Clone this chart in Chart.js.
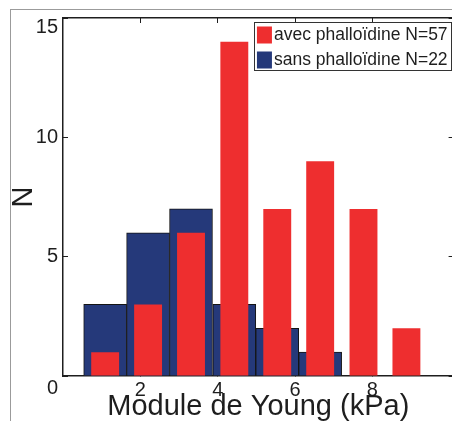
<!DOCTYPE html>
<html><head><meta charset="utf-8">
<script src="https://cdn.jsdelivr.net/npm/chart.js@4.4.1/dist/chart.umd.min.js"></script>
<style>
html,body{margin:0;padding:0;background:#fff;overflow:hidden;width:452px;height:421px;}
#wrap{position:relative;width:456px;height:421px;}
#frame{position:absolute;left:10px;top:9px;width:460px;height:420px;border-left:1.5px solid #9b9b9b;border-top:1.5px solid #9b9b9b;}
canvas{position:absolute;left:0;top:0;}
</style></head><body>
<div id="wrap"><div id="frame"></div><canvas id="c" width="456" height="421"></canvas></div>
<script>
// ---- data ----
const binCenters = [1.09, 2.20, 3.31, 4.43, 5.54, 6.65, 7.77, 8.88];
const avecCounts = [1, 3, 6, 14, 7, 9, 7, 2];
const sansCounts = [3, 6, 7, 3, 2, 1];
const avecLabel = 'avec phalloïdine N=57';
const sansLabel = 'sans phalloïdine N=22';
const xTickValues = [2, 4, 6, 8];
const yTickValues = [0, 5, 10, 15];
const xTitle = 'Module de Young (kPa)';
const yTitle = 'N';

// ---- style ----
const FONT = "'Liberation Sans', Arial, Helvetica, sans-serif";
Chart.defaults.font.family = FONT;
const ink = '#1e1e1e';
const red = '#ee2e2f';
const blue = '#25397a';

const tickGrid = {drawOnChartArea:false, drawTicks:true, tickLength:-5, color:ink, lineWidth:1, offset:false};
const border = {display:true, color:ink, width:1.5};
const fixX = h => s => { s.height = h; s.paddingLeft = 0; s.paddingRight = 0; };
const fixY = w => s => { s.width = w; s.paddingTop = 0; s.paddingBottom = 0; };
const setXTicks = s => { s.ticks = xTickValues.map(v => ({value:v})); };
const setYTicks = s => { s.ticks = yTickValues.map(v => ({value:v})); };

const boxLegend = {
  id:'boxLegend',
  afterDraw(chart){
    const {ctx, chartArea:a} = chart;
    ctx.save();
    ctx.font = '17.5px ' + FONT;
    const items = chart.data.datasets.map(d => ({text:d.label, color:d.backgroundColor}));
    const textW = Math.max(...items.map(it => ctx.measureText(it.text).width));
    const sqW = 15, sqH = 17, padL = 3, gap = 2, padR = 3, rowH = 25, firstRow = 13;
    const w = padL + sqW + gap + textW + padR;
    const h = 48;
    const right = a.right - 3;
    const left = right - w;
    const top = a.top + 4;
    ctx.fillStyle = '#fff';
    ctx.fillRect(left, top, w, h);
    ctx.strokeStyle = '#333';
    ctx.lineWidth = 1;
    ctx.strokeRect(Math.round(left)+0.5, Math.round(top)+0.5, Math.round(w), h);
    items.forEach((it, i) => {
      const cy = top + firstRow + i*rowH;
      ctx.fillStyle = it.color;
      ctx.fillRect(left + padL, cy - sqH/2, sqW, sqH);
      ctx.fillStyle = ink;
      ctx.textBaseline = 'middle';
      ctx.textAlign = 'left';
      ctx.fillText(it.text, left + padL + sqW + gap, cy + 0.5);
    });
    ctx.restore();
  }
};

new Chart(document.getElementById('c'), {
  type:'bar',
  data:{
    datasets:[
      {label:avecLabel, data:avecCounts.map((y,i) => ({x:binCenters[i], y})),
       backgroundColor:red, borderWidth:0, grouped:false, categoryPercentage:1, barPercentage:0.65},
      {label:sansLabel, data:sansCounts.map((y,i) => ({x:binCenters[i], y})),
       backgroundColor:blue, borderColor:'#141414', borderWidth:1, grouped:false, categoryPercentage:1, barPercentage:1}
    ]
  },
  options:{
    responsive:false, animation:false,
    layout:{padding:0},
    plugins:{legend:{display:false}, tooltip:{enabled:false}},
    scales:{
      x:{type:'linear', position:'bottom', min:0, max:10.1, bounds:'data', offset:false,
         afterBuildTicks:setXTicks, afterFit:fixX(45),
         ticks:{font:{size:20}, padding:7, color:ink, maxRotation:0, autoSkip:false},
         grid:tickGrid, border,
         title:{display:true, text:xTitle, color:ink, font:{size:29, lineHeight:1}, padding:{top:0, bottom:0}}},
      xTop:{type:'linear', position:'top', min:0, max:10.1, bounds:'data', offset:false,
         afterBuildTicks:setXTicks, afterFit:fixX(18),
         ticks:{display:false}, grid:tickGrid, border},
      y:{type:'linear', position:'left', min:0, max:15, bounds:'data',
         afterBuildTicks:setYTicks, afterFit:fixY(63),
         ticks:{padding:10, color:ink,
           font:c => ({size:20, lineHeight:(c.tick && c.tick.value === yTickValues[yTickValues.length-1]) ? 0.9 : 1.2}),
           callback:v => (v === yTickValues[0] || v === yTickValues[yTickValues.length-1]) ? ['', String(v)] : String(v)},
         grid:tickGrid, border,
         title:{display:true, text:yTitle, color:ink, font:{size:29, lineHeight:1}, padding:{top:9.5, bottom:0}}},
      yRight:{type:'linear', position:'right', min:0, max:15, bounds:'data',
         afterBuildTicks:setYTicks, afterFit:fixY(2.4),
         ticks:{display:false}, grid:tickGrid, border}
    }
  },
  plugins:[boxLegend]
});
</script>
</body></html>
